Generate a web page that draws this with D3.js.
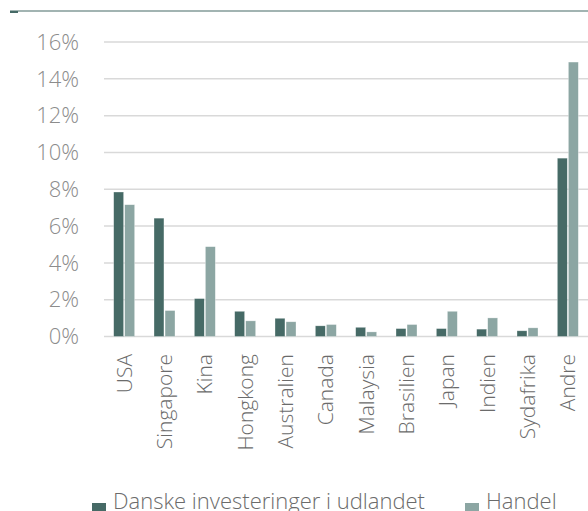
<!DOCTYPE html>
<html>
<head>
<meta charset="utf-8">
<script src="https://cdn.jsdelivr.net/npm/d3@7"></script>
<style>
  body { margin: 0; background: #fff; }
  svg text { font-family: "Open Sans", "Segoe UI", sans-serif; font-weight: 300; }
</style>
</head>
<body>
<div id="chart"></div>
<script>
// countries / regions on the x axis
var countries = ["USA", "Singapore", "Kina", "Hongkong", "Australien", "Canada",
                 "Malaysia", "Brasilien", "Japan", "Indien", "Sydafrika", "Andre"];

// share in percent
var investeringer = [7.85, 6.43, 2.06, 1.37, 0.99, 0.58, 0.50, 0.43, 0.43, 0.40, 0.31, 9.69];
var handel        = [7.16, 1.41, 4.88, 0.85, 0.80, 0.65, 0.25, 0.65, 1.37, 1.01, 0.47, 14.91];

var seriesNames = ["Danske investeringer i udlandet", "Handel"];
var yTicks = [0, 2, 4, 6, 8, 10, 12, 14, 16];

var width = 588, height = 511;
var margin = { top: 42, left: 104, right: 0, bottom: 174 };

var colors = ["#466a66", "#8ca6a3"];

var svg = d3.select("#chart").append("svg")
    .attr("width", width)
    .attr("height", height);

// thin rule along the top
svg.append("line")
    .attr("x1", 10).attr("x2", width)
    .attr("y1", 11).attr("y2", 11)
    .style("stroke", "#466a66")
    .style("stroke-width", 1.2);
svg.append("rect")
    .attr("x", 10).attr("y", 11).attr("width", 8).attr("height", 2)
    .style("fill", "#466a66");

var x = d3.scaleBand()
    .domain(countries)
    .range([margin.left, width - margin.right])
    .paddingInner(0.48)
    .paddingOuter(0.24);

var y = d3.scaleLinear()
    .domain([0, 16])
    .range([height - margin.bottom - 0.5, margin.top]);

var inner = d3.scaleBand()
    .domain([0, 1])
    .range([0, x.bandwidth()])
    .paddingInner(0.1);

// gridlines
svg.append("g").selectAll("line")
    .data(yTicks)
    .enter().append("line")
    .attr("x1", margin.left)
    .attr("x2", width)
    .attr("y1", function(d) { return y(d); })
    .attr("y2", function(d) { return y(d); })
    .style("stroke", "#d9d9d9")
    .style("stroke-width", 1.5);

// y labels
svg.append("g").selectAll("text")
    .data(yTicks)
    .enter().append("text")
    .attr("x", 79)
    .attr("y", function(d) { return y(d); })
    .attr("dy", "0.35em")
    .attr("text-anchor", "end")
    .style("font-size", "22px")
    .style("fill", "#8c8c8c")
    .text(function(d) { return d + "%"; });

var rows = countries.map(function(c, i) {
    return { country: c, values: [investeringer[i], handel[i]] };
});

var groups = svg.append("g").selectAll("g")
    .data(rows)
    .enter().append("g")
    .attr("transform", function(d) { return "translate(" + x(d.country) + ",0)"; });

groups.selectAll("rect")
    .data(function(d) { return d.values; })
    .enter().append("rect")
    .attr("x", function(d, i) { return inner(i); })
    .attr("width", inner.bandwidth())
    .attr("y", function(d) { return y(d); })
    .attr("height", function(d) { return y(0) - y(d); })
    .style("fill", function(d, i) { return colors[i]; })
    .style("stroke", "#ffffff")
    .style("stroke-opacity", 0.5)
    .style("stroke-width", 0.6);

// x labels, rotated
svg.append("g").selectAll("text")
    .data(countries)
    .enter().append("text")
    .attr("transform", function(d) {
        return "translate(" + (x(d) + x.bandwidth() / 2) + "," + 354 + ") rotate(-90)";
    })
    .attr("dy", "0.35em")
    .attr("text-anchor", "end")
    .style("font-size", "21px")
    .style("fill", "#6b6b6b")
    .text(function(d) { return d; });

// legend
var legendX = [92, 465];
var legend = svg.append("g").selectAll("g")
    .data(seriesNames)
    .enter().append("g")
    .attr("transform", function(d, i) { return "translate(" + legendX[i] + ",503)"; });

legend.append("rect")
    .attr("width", 14).attr("height", 14)
    .style("fill", function(d, i) { return colors[i]; });

legend.append("text")
    .attr("x", 21)
    .attr("y", 6)
    .style("font-size", "22px")
    .style("fill", "#6b6b6b")
    .text(function(d) { return d; });
</script>
</body>
</html>
